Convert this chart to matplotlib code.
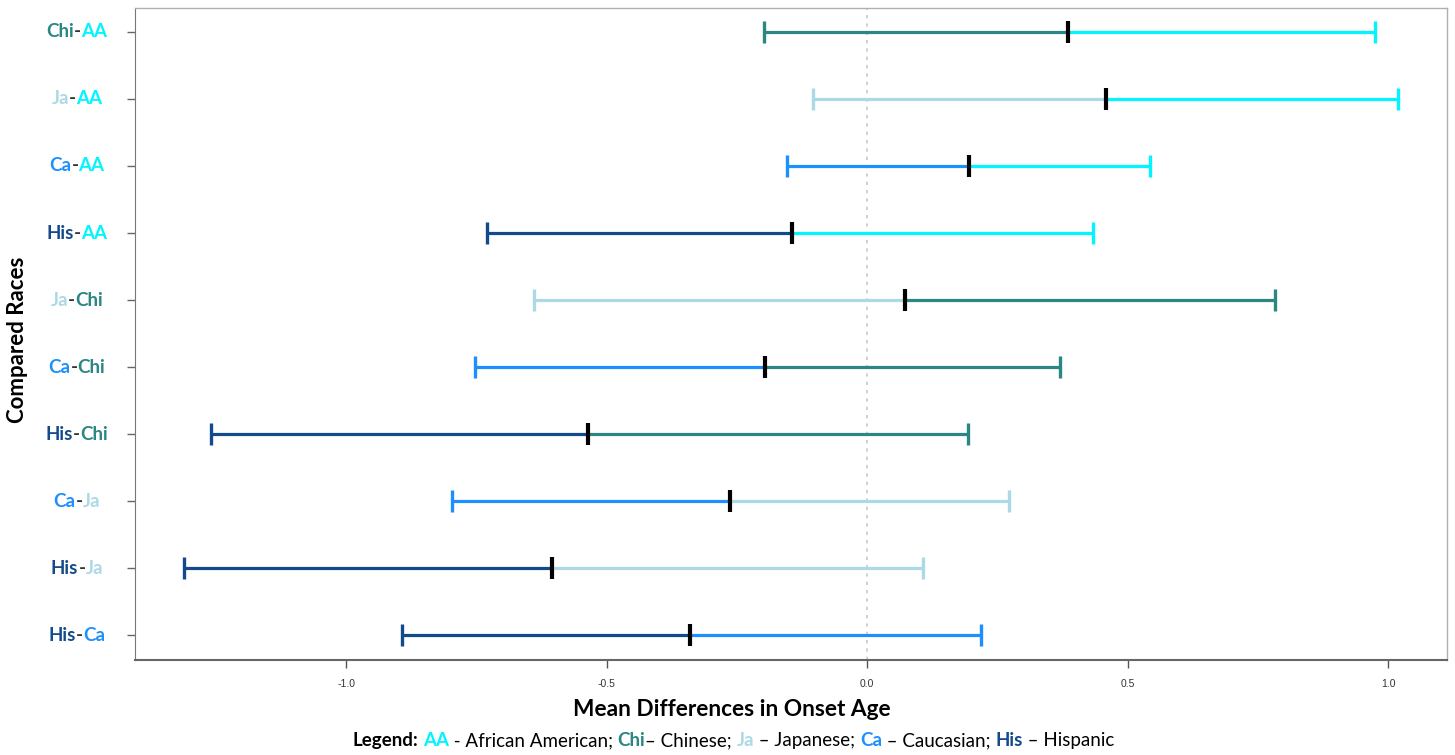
import matplotlib
matplotlib.use("Agg")
import matplotlib.pyplot as plt
from matplotlib.offsetbox import AnnotationBbox, HPacker, TextArea

# comparisons, top row first: (first group, second group)
pairs = [("Chi", "AA"), ("Ja", "AA"), ("Ca", "AA"), ("His", "AA"), ("Ja", "Chi"),
         ("Ca", "Chi"), ("His", "Chi"), ("Ca", "Ja"), ("His", "Ja"), ("His", "Ca")]
lower = [-0.198, -0.104, -0.154, -0.729, -0.640, -0.752, -1.259, -0.796, -1.311, -0.893]
mean_diff = [0.386, 0.459, 0.196, -0.145, 0.073, -0.196, -0.535, -0.263, -0.604, -0.340]
upper = [0.975, 1.019, 0.543, 0.434, 0.783, 0.370, 0.194, 0.273, 0.107, 0.219]

group_colors = {
    "AA": "#00f5ff",
    "Chi": "#2a8783",
    "Ja": "#add8e6",
    "Ca": "#1e8fff",
    "His": "#134a8c",
}
legend_names = [("AA", " - African American; "), ("Chi", "– Chinese; "),
                ("Ja", " – Japanese; "), ("Ca", " – Caucasian; "), ("His", " – Hispanic")]

LABEL_FONT = ["Lato", "DejaVu Sans"]

fig = plt.figure(figsize=(14.55, 7.55), dpi=100)
ax = fig.add_axes([0.0928, 0.1258, 0.9017, 0.8636])

n = len(pairs)
ypos = [n - 1 - i for i in range(n)]

ax.axvline(0, color="#c8c8c8", lw=1.2, ls=(0, (2, 3)), zorder=1)

for y, (a, b), lo, m, hi in zip(ypos, pairs, lower, mean_diff, upper):
    ca, cb = group_colors[a], group_colors[b]
    ax.plot([lo, m], [y, y], color=ca, lw=2.3, solid_capstyle="butt", zorder=2)
    ax.plot([m, hi], [y, y], color=cb, lw=2.3, solid_capstyle="butt", zorder=2)
    ax.plot([lo], [y], marker="|", ms=16, mew=2.4, color=ca, zorder=3)
    ax.plot([hi], [y], marker="|", ms=16, mew=2.4, color=cb, zorder=3)
    ax.plot([m], [y], marker="|", ms=16, mew=3.0, color="black", zorder=4)

ax.set_xlim(-1.405, 1.113)
ax.set_ylim(-0.373, 9.358)
ax.set_xticks([-1.0, -0.5, 0.0, 0.5, 1.0])
ax.set_xticklabels(["-1.0", "-0.5", "0.0", "0.5", "1.0"], fontsize=7.5, color="#333333",
                   family="Liberation Sans")
ax.set_yticks(ypos)
ax.set_yticklabels([])
ax.tick_params(axis="x", length=6, width=1, color="#555555", pad=8)
ax.tick_params(axis="y", length=6, width=1, color="#666666")
for side in ("top", "right"):
    ax.spines[side].set_color("#b0b0b0")
    ax.spines[side].set_linewidth(1)
ax.spines["left"].set_color("#777777")
ax.spines["bottom"].set_color("#666666")
ax.spines["bottom"].set_linewidth(1.5)

# two-coloured row labels, centred left of the axes
for y, (a, b) in zip(ypos, pairs):
    parts = [TextArea(a, textprops=dict(color=group_colors[a], fontsize=13.5,
                                        fontweight="bold", family=LABEL_FONT)),
             TextArea("-", textprops=dict(color="#333333", fontsize=13.5,
                                          fontweight="bold", family=LABEL_FONT)),
             TextArea(b, textprops=dict(color=group_colors[b], fontsize=13.5,
                                        fontweight="bold", family=LABEL_FONT))]
    box = HPacker(children=parts, align="baseline", pad=0, sep=0)
    ab = AnnotationBbox(box, (77 / 1455, y), xycoords=("figure fraction", "data"),
                        box_alignment=(0.5, 0.5), frameon=False, annotation_clip=False)
    ax.add_artist(ab)

fig.text(0.012, 0.55, "Compared Races", rotation=90, ha="center", va="center",
         fontsize=16, fontweight="bold", family=LABEL_FONT)
fig.text(0.503, 0.06, "Mean Differences in Onset Age", ha="center", va="center",
         fontsize=16.3, fontweight="bold", family=LABEL_FONT)

# bottom legend line with coloured abbreviations
legend_parts = [TextArea("Legend:", textprops=dict(color="black", fontsize=13.5,
                                                   fontweight="bold", family=LABEL_FONT)),
                TextArea(" ", textprops=dict(fontsize=13.5, family=LABEL_FONT))]
for abbr, name in legend_names:
    legend_parts.append(TextArea(abbr, textprops=dict(color=group_colors[abbr], fontsize=13.5,
                                                      fontweight="bold", family=LABEL_FONT)))
    legend_parts.append(TextArea(name, textprops=dict(color="black", fontsize=13.5,
                                                      family=LABEL_FONT)))
legend_box = HPacker(children=legend_parts, align="baseline", pad=0, sep=0)
fig.add_artist(AnnotationBbox(legend_box, (0.504, 0.019), xycoords="figure fraction",
                              box_alignment=(0.5, 0.5), frameon=False))

fig.savefig("out.png", dpi=100)
